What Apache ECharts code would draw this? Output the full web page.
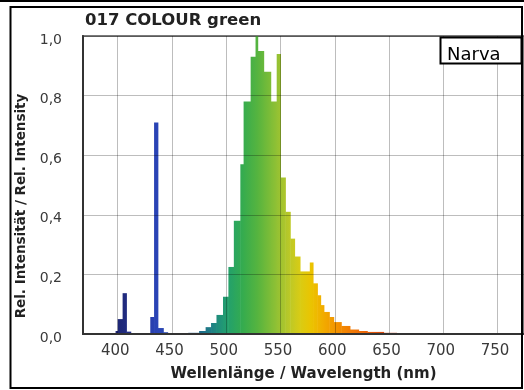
<!DOCTYPE html>
<html><head><meta charset="utf-8">
<script src="https://cdn.jsdelivr.net/npm/echarts@6/dist/echarts.min.js"></script>
<style>html,body{margin:0;padding:0;background:#fff}#c{width:524px;height:390px}</style>
</head><body><div id="c"></div>
<script>
const chartTitle = '017 COLOUR green';
const brandLabel = 'Narva';
const xName = 'Wellenlänge / Wavelength (nm)';
const yName = 'Rel. Intensität / Rel. Intensity';
const xTicks = [400, 450, 500, 550, 600, 650, 700, 750];
const yTicks = [0, 0.2, 0.4, 0.6, 0.8, 1.0];

// spectral bins (nm) and relative intensity
const wlFrom = [398, 400, 404.5, 408, 430, 433.5, 437, 442,
  465, 475, 481, 486, 491, 497, 502, 507, 513, 516, 522.5, 527, 529, 534.5, 541, 546.5,
  550, 554.5, 559, 563, 568, 577, 580, 584, 587, 590, 595, 599, 606, 614, 622, 630, 645];
const wlTo = [400, 404.5, 408, 412, 433.5, 437, 442, 446,
  475, 481, 486, 491, 497, 502, 507, 513, 516, 522.5, 527, 529, 534.5, 541, 546.5, 550,
  554.5, 559, 563, 568, 577, 580, 584, 587, 590, 595, 599, 606, 614, 622, 630, 645, 657];
const relInt = [0.01, 0.05, 0.137, 0.008, 0.057, 0.71, 0.02, 0.006,
  0.004, 0.01, 0.023, 0.037, 0.064, 0.125, 0.225, 0.38, 0.57, 0.78, 0.93, 1.0, 0.95, 0.88, 0.78, 0.94,
  0.525, 0.41, 0.32, 0.26, 0.21, 0.24, 0.17, 0.13, 0.097, 0.074, 0.057, 0.04, 0.027, 0.015, 0.01, 0.007, 0.004];

// colour of the spectrum at wavelength
const colorNm = [395, 405, 425, 436, 450, 470, 485, 500, 515, 530, 545, 557, 568, 578, 590, 605, 620, 640, 660];
const colorHex = ['#1b2470', '#202a7c', '#2638a4', '#2a45b8', '#2a4aa8', '#1d5f8c', '#1f7d86', '#22a070', '#34ab4e',
  '#5ab53e', '#8cc035', '#b8c82a', '#d9cc14', '#ebc400', '#f2aa00', '#f38c00', '#ef7206', '#e2500e', '#b02a10'];

function hexToRgb(h) { return [1, 3, 5].map(i => parseInt(h.substr(i, 2), 16)); }
function colorAt(nm) {
  if (nm <= colorNm[0]) return colorHex[0];
  for (let i = 1; i < colorNm.length; i++) {
    if (nm <= colorNm[i]) {
      const t = (nm - colorNm[i - 1]) / (colorNm[i] - colorNm[i - 1]);
      const a = hexToRgb(colorHex[i - 1]), b = hexToRgb(colorHex[i]);
      const c = a.map((v, k) => Math.round(v + (b[k] - v) * t));
      return 'rgb(' + c.join(',') + ')';
    }
  }
  return colorHex[colorHex.length - 1];
}

const FONT = 'DejaVu Sans';
const chart = echarts.init(document.getElementById('c'), null, { renderer: 'canvas' });
const gridCol = 'rgba(0,0,0,0.26)';
chart.setOption({
  animation: false,
  backgroundColor: '#fff',
  grid: { left: 83, right: -6, top: 36, bottom: 56, show: true, borderColor: '#7a7a7a', borderWidth: 2, backgroundColor: 'transparent' },
  xAxis: {
    type: 'value', min: 368, max: 774.4, z: 5,
    name: xName, nameLocation: 'middle', nameGap: 33,
    nameTextStyle: { fontFamily: FONT, fontWeight: 'bold', fontSize: 15, color: '#222' },
    axisLine: { show: true, onZero: false, lineStyle: { color: '#333', width: 2 } },
    axisTick: { show: false, customValues: xTicks },
    axisLabel: { customValues: xTicks, fontFamily: FONT, fontSize: 15, color: '#3a3a3a', margin: 10, padding: [0, 5, 0, 0] },
    splitLine: { show: true, lineStyle: { color: gridCol, width: 1 } }
  },
  yAxis: {
    type: 'value', min: 0, max: 1, interval: 0.2, z: 5,
    axisLine: { show: true, lineStyle: { color: '#333', width: 2 } },
    axisTick: { show: false },
    axisLabel: { fontFamily: FONT, fontSize: 14, color: '#3a3a3a', margin: 21, verticalAlign: 'top', lineHeight: 8,
      formatter: v => v.toFixed(1).replace('.', ',') },
    splitLine: { show: true, lineStyle: { color: gridCol, width: 1 } }
  },
  series: [{
    type: 'custom', z: 2,
    data: wlFrom.map((a, i) => [a, wlTo[i], relInt[i]]),
    encode: { x: [0, 1], y: 2 },
    renderItem: function (params, api) {
      const a = api.value(0), b = api.value(1), v = api.value(2);
      const p0 = api.coord([a, v]), p1 = api.coord([b, 0]);
      return {
        type: 'rect',
        shape: { x: p0[0], y: p0[1], width: p1[0] - p0[0] + 0.5, height: p1[1] - p0[1] },
        style: { fill: new echarts.graphic.LinearGradient(0, 0, 1, 0, [
          { offset: 0, color: colorAt(a) }, { offset: 1, color: colorAt(b) }]) }
      };
    }
  }],
  graphic: [
    { type: 'line', shape: { x1: 0, y1: 1, x2: 524, y2: 1 }, style: { stroke: '#000', lineWidth: 2 }, z: 10 },
    { type: 'rect', shape: { x: 10.5, y: 7, width: 511.5, height: 381 }, style: { fill: 'none', stroke: '#000', lineWidth: 2 }, z: 10 },
    { type: 'text', x: 85, y: 21, z: 10, style: { text: chartTitle, font: 'bold 16.5px "DejaVu Sans"', fill: '#222', textAlign: 'left', textVerticalAlign: 'middle' } },
    { type: 'text', x: 21, y: 206, rotation: Math.PI / 2, z: 10, style: { text: yName, font: 'bold 13.5px "DejaVu Sans"', fill: '#222', textAlign: 'center', textVerticalAlign: 'middle' } },
    { type: 'rect', shape: { x: 440.5, y: 37.5, width: 81, height: 26 }, style: { fill: '#fff', stroke: '#000', lineWidth: 2 }, z: 10 },
    { type: 'text', x: 447, y: 55.5, z: 11, style: { text: brandLabel, font: '18px "DejaVu Sans"', fill: '#000', textAlign: 'left', textVerticalAlign: 'middle' } }
  ]
});
</script></body></html>
